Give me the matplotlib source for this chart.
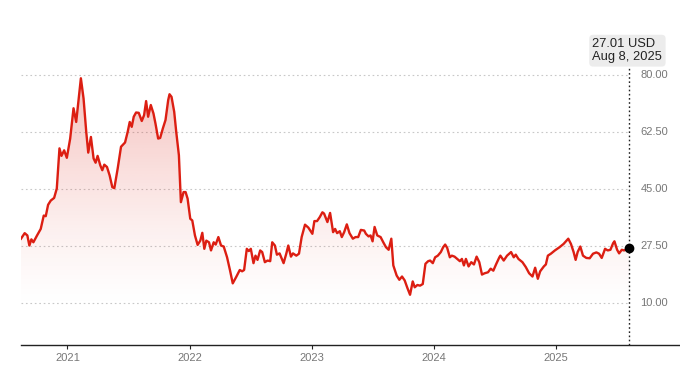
import numpy as np
import pandas as pd
import matplotlib
matplotlib.use("Agg")
import matplotlib.pyplot as plt
import matplotlib.dates as mdates

plt.rcParams['font.family'] = ['Liberation Sans', 'DejaVu Sans']

dates = [
    "2020-08-15", "2020-08-26", "2020-09-03", "2020-09-09", "2020-09-15", "2020-09-21",
    "2020-10-02", "2020-10-13", "2020-10-22", "2020-10-28", "2020-11-04", "2020-11-12",
    "2020-11-22", "2020-11-30", "2020-12-08", "2020-12-14", "2020-12-22", "2020-12-30",
    "2021-01-09", "2021-01-19", "2021-01-27", "2021-02-10", "2021-02-18", "2021-02-26",
    "2021-03-04", "2021-03-12", "2021-03-20", "2021-03-26", "2021-04-01", "2021-04-09",
    "2021-04-15", "2021-04-21", "2021-04-29", "2021-05-07", "2021-05-15", "2021-05-21",
    "2021-05-31", "2021-06-10", "2021-06-22", "2021-06-30", "2021-07-06", "2021-07-12",
    "2021-07-18", "2021-07-25", "2021-08-02", "2021-08-11", "2021-08-18", "2021-08-24",
    "2021-08-30", "2021-09-07", "2021-09-15", "2021-09-21", "2021-09-29", "2021-10-05",
    "2021-10-13", "2021-10-21", "2021-10-29", "2021-11-02", "2021-11-08", "2021-11-16",
    "2021-11-22", "2021-11-30", "2021-12-06", "2021-12-14", "2021-12-20", "2021-12-26",
    "2022-01-03", "2022-01-09", "2022-01-17", "2022-01-25", "2022-02-02", "2022-02-08",
    "2022-02-14", "2022-02-20", "2022-02-28", "2022-03-06", "2022-03-14", "2022-03-20",
    "2022-03-28", "2022-04-05", "2022-04-13", "2022-04-23", "2022-05-02", "2022-05-10",
    "2022-05-20", "2022-05-31", "2022-06-07", "2022-06-13", "2022-06-21", "2022-06-27",
    "2022-07-03", "2022-07-11", "2022-07-17", "2022-07-23", "2022-07-31", "2022-08-06",
    "2022-08-14", "2022-08-22", "2022-08-30", "2022-09-05", "2022-09-13", "2022-09-19",
    "2022-09-27", "2022-10-09", "2022-10-17", "2022-10-23", "2022-10-31", "2022-11-06",
    "2022-11-16", "2022-11-24", "2022-12-02", "2022-12-12", "2022-12-22", "2023-01-03",
    "2023-01-09", "2023-01-17", "2023-01-25", "2023-02-02", "2023-02-07", "2023-02-17",
    "2023-02-25", "2023-03-06", "2023-03-12", "2023-03-18", "2023-03-26", "2023-04-01",
    "2023-04-08", "2023-04-16", "2023-04-24", "2023-05-04", "2023-05-12", "2023-05-20",
    "2023-05-28", "2023-06-07", "2023-06-12", "2023-06-20", "2023-06-26", "2023-07-02",
    "2023-07-08", "2023-07-16", "2023-07-26", "2023-08-03", "2023-08-11", "2023-08-19",
    "2023-08-27", "2023-09-02", "2023-09-12", "2023-09-20", "2023-09-28", "2023-10-06",
    "2023-10-14", "2023-10-22", "2023-10-30", "2023-11-05", "2023-11-13", "2023-11-21",
    "2023-11-29", "2023-12-07", "2023-12-15", "2023-12-21", "2023-12-29", "2024-01-05",
    "2024-01-13", "2024-01-22", "2024-01-29", "2024-02-04", "2024-02-10", "2024-02-18",
    "2024-02-24", "2024-03-03", "2024-03-11", "2024-03-19", "2024-03-25", "2024-03-31",
    "2024-04-06", "2024-04-14", "2024-04-22", "2024-04-30", "2024-05-08", "2024-05-16",
    "2024-05-24", "2024-06-01", "2024-06-11", "2024-06-19", "2024-06-27", "2024-07-05",
    "2024-07-15", "2024-07-18", "2024-07-28", "2024-08-07", "2024-08-19", "2024-08-27",
    "2024-09-02", "2024-09-10", "2024-09-22", "2024-10-02", "2024-10-12", "2024-10-22",
    "2024-10-30", "2024-11-07", "2024-11-14", "2024-11-25", "2024-12-01", "2024-12-07",
    "2024-12-16", "2024-12-28", "2025-01-11", "2025-01-23", "2025-02-06", "2025-02-14",
    "2025-02-22", "2025-02-28", "2025-03-06", "2025-03-14", "2025-03-22", "2025-04-01",
    "2025-04-11", "2025-04-21", "2025-05-01", "2025-05-09", "2025-05-17", "2025-05-27",
    "2025-06-04", "2025-06-12", "2025-06-20", "2025-06-24", "2025-07-02", "2025-07-08",
    "2025-07-16", "2025-07-23", "2025-08-08",
]
prices = [
    29.8, 31.5, 30.8, 27.7, 29.6, 28.7,
    30.8, 32.8, 36.9, 36.7, 40.2, 41.5,
    42.3, 45.2, 57.5, 55.2, 56.9, 54.6,
    60.5, 69.8, 65.6, 79.0, 72.8, 62.6,
    56.2, 61.0, 54.4, 53.1, 55.2, 52.3,
    50.8, 52.5, 51.8, 49.2, 45.6, 45.3,
    51.3, 58.0, 59.3, 62.6, 65.6, 64.1,
    67.2, 68.5, 68.4, 65.9, 67.7, 72.0,
    67.2, 70.8, 68.2, 65.1, 60.5, 60.7,
    63.6, 66.2, 72.3, 74.1, 73.3, 68.7,
    62.6, 55.4, 41.0, 44.1, 44.1, 42.1,
    35.9, 35.4, 30.8, 27.9, 29.2, 31.6,
    26.7, 29.2, 28.7, 26.2, 28.7, 28.0,
    30.3, 27.7, 27.4, 24.1, 20.0, 16.1,
    18.0, 20.2, 19.8, 20.2, 26.7, 26.0,
    26.7, 22.3, 24.6, 23.3, 26.2, 25.7,
    22.6, 23.1, 22.9, 28.7, 27.7, 24.9,
    25.3, 22.3, 25.2, 27.7, 24.3, 25.3,
    24.6, 25.2, 30.3, 34.1, 33.2, 31.3,
    35.2, 35.2, 36.4, 37.9, 37.5, 34.9,
    37.7, 31.8, 32.8, 31.5, 32.1, 30.3,
    31.8, 34.2, 31.5, 29.8, 30.3, 30.3,
    32.5, 32.3, 31.3, 30.5, 30.8, 29.0,
    33.4, 30.8, 30.3, 28.7, 27.2, 26.4,
    29.8, 21.6, 18.5, 17.2, 18.2, 17.0,
    14.7, 12.6, 16.7, 14.9, 15.6, 15.4,
    15.9, 22.1, 22.9, 23.1, 22.3, 24.1,
    24.6, 25.7, 27.2, 28.0, 27.0, 24.1,
    24.6, 24.3, 23.6, 22.9, 23.6, 21.6,
    23.6, 21.3, 22.6, 21.9, 24.3, 22.6,
    18.8, 19.2, 19.5, 20.6, 20.0, 21.9,
    24.1, 24.6, 23.1, 24.6, 25.7, 24.1,
    24.9, 23.6, 22.6, 21.1, 19.2, 18.2,
    20.9, 17.5, 19.8, 21.3, 21.9, 24.6,
    25.2, 26.2, 27.2, 28.2, 29.8, 28.2,
    25.7, 23.3, 25.7, 27.4, 24.6, 23.9,
    23.8, 25.2, 25.6, 25.2, 23.9, 26.7,
    26.2, 26.4, 28.4, 29.0, 26.4, 25.3,
    26.4, 26.2, 27.01,
]
yticks = [10.0, 27.5, 45.0, 62.5, 80.0]
years = ["2021", "2022", "2023", "2024", "2025"]
last_label = "27.01 USD\nAug 8, 2025"

x = pd.to_datetime(dates)
y = np.array(prices)
red = "#dc1e12"
ymin, ymax = -2.8, 103.0

fig = plt.figure(figsize=(6.8, 3.69), dpi=100)
ax = fig.add_axes([21 / 680, 24 / 369, 659 / 680, 345 / 369])
ax.set_xlim(x[0], pd.Timestamp("2026-01-06"))
ax.set_ylim(ymin, ymax)

# gradient fill under the line
poly = ax.fill_between(x, y, ymin, facecolor="none", edgecolor="none")
grad = np.linspace(0, 1, 256).reshape(-1, 1)
alpha = np.clip((grad * (ymax - ymin) + ymin - 8) / 72, 0, 1) ** 1.3 * 0.28
img = np.zeros((256, 1, 4))
img[..., :3] = matplotlib.colors.to_rgb(red)
img[..., 3] = alpha
x0, x1 = mdates.date2num(x[0]), mdates.date2num(x[-1])
im = ax.imshow(img, extent=[x0, x1, ymin, ymax], origin="lower", aspect="auto", zorder=1)
im.set_clip_path(poly.get_paths()[0], transform=ax.transData)

ax.hlines(yticks, x[0], x[-1], colors="#c8c8c8", linestyles=(0, (1.5, 2.5)), linewidth=0.8, zorder=0)
ax.plot(x, y, color=red, linewidth=1.7, zorder=3, solid_joinstyle="round")

# marker for the latest value
ax.axvline(x[-1], ymin=0, ymax=0.806, color="#222222", linestyle=(0, (1.2, 1.8)),
           linewidth=1.0, zorder=2)
ax.plot([x[-1]], [y[-1]], "o", color="black", markersize=6, zorder=4, clip_on=False)

for v in yticks:
    ax.text(1.0 - 12 / 659, v, f"{v:.2f}", transform=ax.get_yaxis_transform(),
            ha="right", va="center", fontsize=8, color="#777777")

ax.annotate(last_label, xy=(x[-1], 1), xycoords=("data", "axes fraction"),
            xytext=(-37, -38), textcoords="offset pixels", ha="left", va="top",
            fontsize=9.3, color="#222222", linespacing=1.15,
            bbox=dict(boxstyle="round,pad=0.25,rounding_size=0.3", fc="#ececec", ec="none"))

ax.set_xticks(pd.to_datetime([f"{yr}-01-01" for yr in years]))
ax.set_xticklabels(years)
ax.tick_params(axis="x", length=3, width=0.8, color="#222222", labelcolor="#777777",
               labelsize=8, pad=3)
ax.set_yticks([])
for s in ["top", "right", "left"]:
    ax.spines[s].set_visible(False)
ax.spines["bottom"].set_linewidth(1.0)
ax.spines["bottom"].set_color("#222222")

fig.savefig("out.png", dpi=100)
